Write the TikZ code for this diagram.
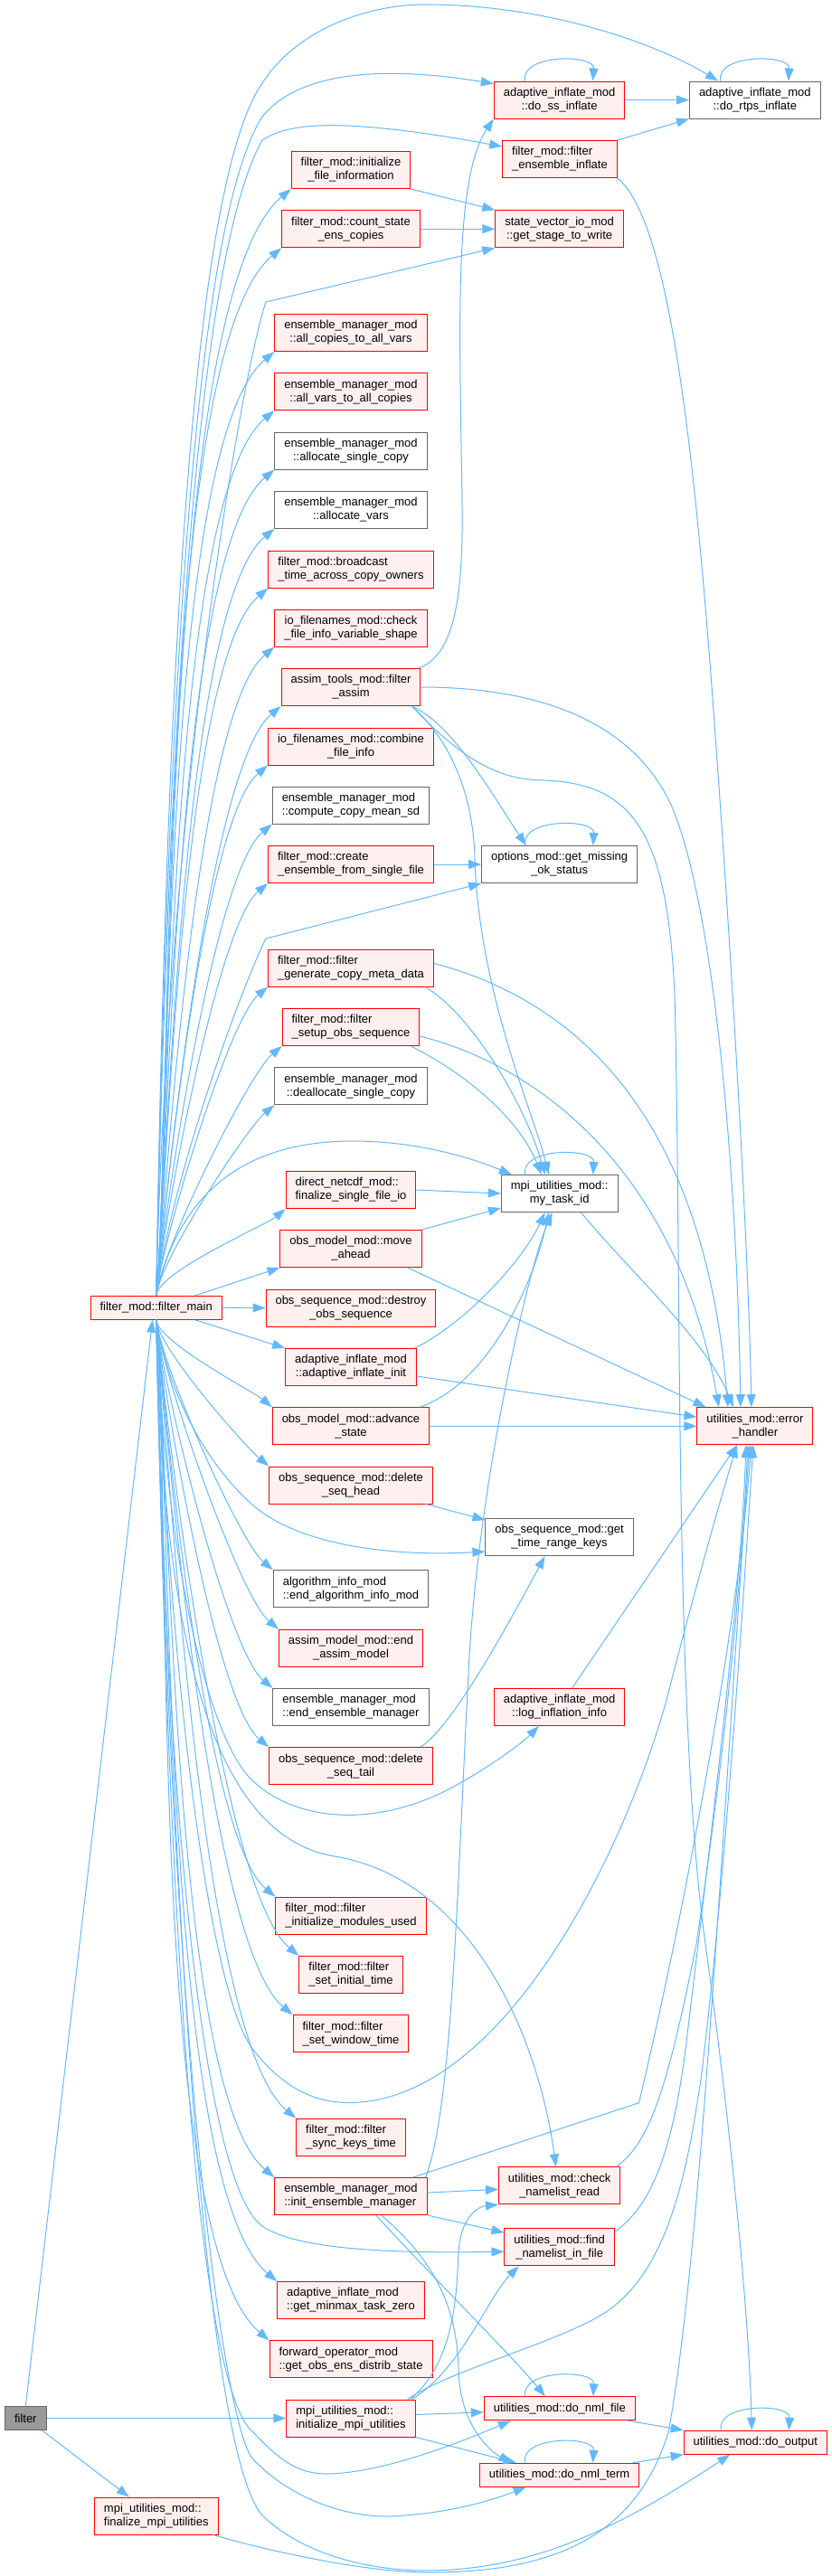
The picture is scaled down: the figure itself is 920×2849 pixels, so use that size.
\documentclass[tikz,border=0pt]{standalone}
\usepackage{fontspec}
\setmainfont{Liberation Sans}
\usetikzlibrary{arrows.meta}
\definecolor{callblue}{HTML}{63B8FF}
\definecolor{redfill}{HTML}{FFF0F0}
\definecolor{greyline}{HTML}{666666}
\definecolor{rootfill}{HTML}{999999}
\tikzset{
    fn/.style={
        draw=red, fill=redfill, line width=1pt,
        inner xsep=10.5pt, inner ysep=0pt,
        minimum height=41pt, align=center,
        font=\fontsize{13}{15}\selectfont
    },
    leaf/.style={fn, draw=greyline, fill=white},
    one/.style={minimum height=26pt},
    lft/.style={align=left},
    root/.style={fn, one, draw=greyline, fill=rootfill},
    call/.style={
        draw=callblue, line width=1pt,
        -{Triangle[length=14pt,width=10pt]}
    }
}
\begin{document}
\begin{tikzpicture}[x=1pt,y=1pt]
\useasboundingbox (0,0) rectangle (920,-2849);

% callers
\node[root] (filter) at (28.3,-2674.5) {filter};
\node[fn,one] (fmain) at (172.7,-1446.3) {filter\_mod::filter\_main};
\node[fn,lft] (finmpi) at (172.8,-2782.5) {mpi\_utilities\_mod::\\finalize\_mpi\_utilities};

% called by filter_main
\node[fn] (initfile) at (388,-188) {filter\_mod::initialize\\\_file\_information};
\node[fn] (countstate) at (388,-253.2) {filter\_mod::count\_state\\\_ens\_copies};
\node[fn] (allcop) at (388,-368) {ensemble\_manager\_mod\\::all\_copies\_to\_all\_vars};
\node[fn] (allvars) at (388,-433.2) {ensemble\_manager\_mod\\::all\_vars\_to\_all\_copies};
\node[leaf] (allocsingle) at (388,-498.5) {ensemble\_manager\_mod\\::allocate\_single\_copy};
\node[leaf] (allocvars) at (388,-563.8) {ensemble\_manager\_mod\\::allocate\_vars};
\node[fn,lft] (broadcast) at (388,-629.5) {filter\_mod::broadcast\\\_time\_across\_copy\_owners};
\node[fn] (checkshape) at (388,-694.5) {io\_filenames\_mod::check\\\_file\_info\_variable\_shape};
\node[fn] (fassim) at (388,-760) {assim\_tools\_mod::filter\\\_assim};
\node[fn] (combine) at (388,-825.5) {io\_filenames\_mod::combine\\\_file\_info};
\node[leaf,lft] (meansd) at (388,-890.5) {ensemble\_manager\_mod\\::compute\_copy\_mean\_sd};
\node[fn,lft] (createens) at (388,-956) {filter\_mod::create\\\_ensemble\_from\_single\_file};
\node[fn,lft] (genmeta) at (388,-1070.5) {filter\_mod::filter\\\_generate\_copy\_meta\_data};
\node[fn,lft] (setupobs) at (388,-1136) {filter\_mod::filter\\\_setup\_obs\_sequence};
\node[leaf] (dealloc) at (388,-1201.2) {ensemble\_manager\_mod\\::deallocate\_single\_copy};
\node[fn,lft] (finsingle) at (388,-1316) {direct\_netcdf\_mod::\\finalize\_single\_file\_io};
\node[fn] (moveahead) at (388,-1381) {obs\_model\_mod::move\\\_ahead};
\node[fn] (destroy) at (388,-1446.5) {obs\_sequence\_mod::destroy\\\_obs\_sequence};
\node[fn] (adinit) at (388,-1512) {adaptive\_inflate\_mod\\::adaptive\_inflate\_init};
\node[fn] (advance) at (388,-1577.2) {obs\_model\_mod::advance\\\_state};
\node[fn] (delhead) at (388,-1642.5) {obs\_sequence\_mod::delete\\\_seq\_head};
\node[leaf,lft] (endalg) at (388,-1757.3) {algorithm\_info\_mod\\::end\_algorithm\_info\_mod};
\node[fn] (endassim) at (388,-1822.8) {assim\_model\_mod::end\\\_assim\_model};
\node[leaf,lft] (endens) at (388,-1888) {ensemble\_manager\_mod\\::end\_ensemble\_manager};
\node[fn] (deltail) at (388,-1953.2) {obs\_sequence\_mod::delete\\\_seq\_tail};
\node[fn,lft] (initmods) at (388,-2118.7) {filter\_mod::filter\\\_initialize\_modules\_used};
\node[fn,lft] (setinit) at (388,-2184) {filter\_mod::filter\\\_set\_initial\_time};
\node[fn,lft] (setwin) at (388,-2249.3) {filter\_mod::filter\\\_set\_window\_time};
\node[fn,lft] (synckeys) at (388,-2363.7) {filter\_mod::filter\\\_sync\_keys\_time};
\node[fn,lft] (initens) at (388,-2429) {ensemble\_manager\_mod\\::init\_ensemble\_manager};
\node[fn,lft] (minmax) at (388,-2544) {adaptive\_inflate\_mod\\::get\_minmax\_task\_zero};
\node[fn,lft] (distrib) at (388,-2609.2) {forward\_operator\_mod\\::get\_obs\_ens\_distrib\_state};
\node[fn,lft] (initmpi) at (388,-2674.5) {mpi\_utilities\_mod::\\initialize\_mpi\_utilities};

% third level
\node[fn] (ssinf) at (618.6,-110.5) {adaptive\_inflate\_mod\\::do\_ss\_inflate};
\node[fn,lft] (ensinf) at (619,-176) {filter\_mod::filter\\\_ensemble\_inflate};
\node[fn] (stage) at (618.6,-253.2) {state\_vector\_io\_mod\\::get\_stage\_to\_write};
\node[leaf] (missing) at (618.7,-956) {options\_mod::get\_missing\\\_ok\_status};
\node[leaf] (taskid) at (618.7,-1320) {mpi\_utilities\_mod::\\my\_task\_id};
\node[leaf] (timekeys) at (618.6,-1700) {obs\_sequence\_mod::get\\\_time\_range\_keys};
\node[fn] (loginf) at (618.6,-1888) {adaptive\_inflate\_mod\\::log\_inflation\_info};
\node[fn] (chkread) at (618.7,-2417.3) {utilities\_mod::check\\\_namelist\_read};
\node[fn] (findnml) at (618.7,-2485.2) {utilities\_mod::find\\\_namelist\_in\_file};
\node[fn,one] (nmlfile) at (618.8,-2663.8) {utilities\_mod::do\_nml\_file};
\node[fn,one] (nmlterm) at (618.6,-2737.2) {utilities\_mod::do\_nml\_term};

\node[leaf] (rtps) at (834.8,-110.5) {adaptive\_inflate\_mod\\::do\_rtps\_inflate};
\node[fn] (errh) at (834.9,-1577.2) {utilities\_mod::error\\\_handler};
\node[fn,one] (doout) at (835.3,-2701.2) {utilities\_mod::do\_output};

% filter
\draw[call] (filter.north) -- ([xshift=-4pt]fmain.south);
\draw[call] (filter.east) -- (initmpi.west);
\draw[call] ([xshift=-5pt]filter.south east) -- ([xshift=-30pt]finmpi.north);

% filter_main fan
\foreach \n/\d in {initfile/193,countstate/183,allcop/165,allvars/155,allocsingle/145,
                   allocvars/135,broadcast/125,checkshape/115,fassim/105,combine/94,
                   meansd/85,createens/74,genmeta/57,setupobs/48,dealloc/39,finsingle/27}
    \draw[call] (fmain.north) .. controls +({0.1*\d},\d) and +({-0.766*\d},{-0.643*\d}) .. (\n.south west);
\foreach \n/\d in {advance/25,delhead/33,endalg/48,endassim/57,endens/67,deltail/77,
                   initmods/103,setinit/113,setwin/123,synckeys/140,initens/150,
                   minmax/168,distrib/179}
    \draw[call] (fmain.south) .. controls +({0.1*\d},-\d) and +({-0.766*\d},{0.643*\d}) .. (\n.north west);
\draw[call] ([xshift=-30pt]fmain.north east) -- (moveahead.south west);
\draw[call] (fmain.east) -- (destroy.west);
\draw[call] ([xshift=-30pt]fmain.south east) -- (adinit.north west);

% filter_main, long calls
\draw[call] (fmain.north) .. controls (185,-700) and (215,-200) .. (290,-92)
    .. controls (330,-30) and (410,-5) .. (470,-5)
    .. controls (600,-5) and (720,-45) .. ([xshift=32pt]rtps.north west);
\draw[call] (fmain.north) .. controls (187,-700) and (220,-240) .. (290,-129)
    .. controls (330,-80) and (420,-72) .. ([yshift=-3pt]ssinf.north west);
\draw[call] (fmain.north) .. controls (189,-700) and (225,-270) .. (290,-155)
    .. controls (320,-135) and (380,-130) .. ([yshift=-7pt]ensinf.north west);
\draw[call] (fmain.north) .. controls (185,-900) and (265,-420) .. (294,-334) -- (stage.south west);
\draw[call] (fmain.north) .. controls (190,-1300) and (270,-1085) .. (294,-1038) -- (missing.south west);
\draw[call] (fmain.north) .. controls (195,-1330) and (260,-1262) .. (390,-1262)
    .. controls (460,-1262) and (520,-1280) .. ([xshift=12pt]taskid.north west);
\draw[call] (fmain.south) .. controls (190,-1560) and (240,-1630) .. (280,-1665)
    .. controls (330,-1708) and (430,-1722) .. ([yshift=5pt]timekeys.south west);
\draw[call] (fmain.south) .. controls (185,-1750) and (235,-1930) .. (280,-1970)
    .. controls (320,-2008) and (400,-2025) .. (490,-1982)
    .. controls (530,-1962) and (575,-1930) .. ([xshift=50pt]loginf.south west);
\draw[call] (fmain.south) .. controls (180,-1800) and (230,-2030) .. (370,-2053)
    .. controls (520,-2078) and (595,-2250) .. ([xshift=-4pt]chkread.north);
\draw[call] (fmain.south) .. controls (185,-2050) and (230,-2420) .. (290,-2462)
    .. controls (330,-2490) and (450,-2492) .. ([yshift=-5pt]findnml.west);
\draw[call] (fmain.south) .. controls (190,-2300) and (230,-2650) .. (280,-2690)
    .. controls (310,-2722) and (330,-2736) .. (362,-2736)
    .. controls (420,-2735) and (500,-2705) .. ([xshift=30pt]nmlfile.south west);
\draw[call] (fmain.south) .. controls (190,-2300) and (250,-2690) .. (280,-2720)
    .. controls (320,-2762) and (380,-2784) .. (431,-2783)
    .. controls (500,-2780) and (550,-2763) .. ([xshift=-37pt]nmlterm.south);
\draw[call] (fmain.south) .. controls (200,-2400) and (245,-2730) .. (290,-2782)
    .. controls (340,-2830) and (420,-2843) .. (470,-2843)
    .. controls (600,-2843) and (700,-2785) .. ([xshift=-28pt]doout.south);
\draw[call] (fmain.south) .. controls (190,-1900) and (235,-2210) .. (280,-2267)
    .. controls (320,-2318) and (360,-2328) .. (398,-2325)
    .. controls (560,-2312) and (690,-2050) .. (737,-1880)
    .. controls (760,-1790) and (790,-1680) .. ([xshift=-20pt]errh.south);
\draw[call] ([xshift=-6pt]finmpi.south east) .. controls (300,-2822) and (400,-2844) .. (470,-2845)
    .. controls (620,-2846) and (705,-2800) .. (739,-2690)
    .. controls (775,-2500) and (800,-2000) .. ([xshift=-6pt]errh.south);

% first level callees
\draw[call] (initfile.south east) -- (stage.north west);
\draw[call] (countstate.east) -- (stage.west);
\draw[call] (ssinf.east) -- (rtps.west);
\draw[call] (ensinf.north east) -- (rtps.south west);
\draw[call] (ensinf.south east) .. controls (735,-240) and (765,-450) .. (790,-800)
    .. controls (812,-1100) and (828,-1400) .. ([xshift=-4pt]errh.north);
\draw[call] ([xshift=-3pt]fassim.north east) .. controls (505,-725) and (512,-650) .. (511,-560)
    .. controls (509,-380) and (500,-200) .. (ssinf.south west);
\draw[call] ([xshift=-10pt]fassim.south east) .. controls (500,-800) and (545,-880) .. ([xshift=-37pt]missing.north);
\draw[call] ([xshift=-10pt]fassim.south east) .. controls (510,-830) and (524,-900) .. (525,-950)
    .. controls (530,-1100) and (590,-1230) .. ([xshift=-12pt]taskid.north);
\draw[call] ([xshift=-10pt]fassim.south east) .. controls (520,-850) and (560,-862) .. (600,-863)
    .. controls (700,-866) and (738,-920) .. (746,-1100)
    .. controls (754,-1400) and (745,-1900) .. (780,-2150)
    .. controls (805,-2330) and (828,-2550) .. ([xshift=-4pt]doout.north);
\draw[call] (fassim.east) .. controls (600,-760) and (700,-800) .. (742,-890)
    .. controls (790,-1000) and (815,-1300) .. ([xshift=-16pt]errh.north);
\draw[call] (createens.east) -- (missing.west);
\draw[call] ([xshift=-10pt]genmeta.south east) .. controls (520,-1120) and (580,-1220) .. ([xshift=-16pt]taskid.north);
\draw[call] ([yshift=5pt]genmeta.east) .. controls (650,-1110) and (780,-1250) .. ([xshift=-30pt]errh.north);
\draw[call] ([xshift=-10pt]setupobs.south east) .. controls (520,-1190) and (575,-1240) .. ([xshift=-20pt]taskid.north);
\draw[call] ([yshift=-10pt]setupobs.east) .. controls (600,-1180) and (750,-1300) .. ([xshift=-40pt]errh.north);
\draw[call] (finsingle.east) -- (taskid.west);
\draw[call] (moveahead.north east) -- ([yshift=5pt]taskid.south west);
\draw[call] ([xshift=-16pt]moveahead.south east) -- ([xshift=10pt]errh.north west);
\draw[call] ([xshift=-2pt]adinit.north east) .. controls (520,-1460) and (580,-1390) .. ([xshift=-16pt]taskid.south);
\draw[call] ([yshift=-10pt]adinit.east) -- ([yshift=10pt]errh.west);
\draw[call] ([xshift=-11pt]advance.north east) .. controls (540,-1530) and (590,-1420) .. ([xshift=-12pt]taskid.south);
\draw[call] (advance.east) -- (errh.west);
\draw[call] ([xshift=-8pt]delhead.south east) -- ([yshift=-2pt]timekeys.north west);
\draw[call] ([xshift=-14pt]deltail.north east) .. controls (500,-1910) and (560,-1800) .. ([xshift=-16pt]timekeys.south);
\draw[call] ([xshift=24pt]taskid.south) .. controls (690,-1400) and (780,-1480) .. ([xshift=-24pt]errh.north);
\draw[call] ([xshift=14pt]loginf.north) -- ([xshift=-20pt]errh.south);

% init_ensemble_manager and initialize_mpi_utilities
\draw[call] ([yshift=4pt]initens.east) -- ([yshift=-4pt]chkread.west);
\draw[call] (initens.south east) -- ([yshift=-5pt]findnml.north west);
\draw[call] ([xshift=-57pt]initens.south east) .. controls (480,-2520) and (570,-2610) .. ([xshift=-16pt]nmlfile.north);
\draw[call] ([xshift=-51pt]initens.south east) .. controls (480,-2500) and (505,-2550) .. (507,-2620)
    .. controls (508,-2680) and (540,-2710) .. ([xshift=-53pt]nmlterm.north);
\draw[call] ([xshift=-16pt]initens.north east) -- (706.5,-2325.7)
    .. controls (760,-2100) and (815,-1800) .. ([xshift=-4pt]errh.south);
\draw[call] ([xshift=-2pt]initens.north east) .. controls (500,-2330) and (505,-2100) .. (518,-1850)
    .. controls (528,-1640) and (585,-1400) .. ([xshift=-8pt]taskid.south);
\draw[call] ([xshift=-5pt]chkread.north east) .. controls (720,-2370) and (740,-2300) .. (770,-2150)
    .. controls (800,-1950) and (820,-1750) .. ([xshift=-8pt]errh.south);
\draw[call] ([yshift=-4pt]findnml.north east) .. controls (720,-2440) and (745,-2380) .. (760,-2250)
    .. controls (790,-2000) and (820,-1750) .. ([xshift=-10pt]errh.south);
\draw[call] ([xshift=-6pt]initmpi.north east) .. controls (505,-2610) and (505,-2530) .. (507,-2490)
    .. controls (510,-2450) and (530,-2440) .. (chkread.south west);
\draw[call] ([xshift=-4pt]initmpi.north east) .. controls (510,-2620) and (540,-2540) .. ([xshift=-45pt]findnml.south);
\draw[call] ([xshift=-9pt]initmpi.north east) .. controls (500,-2620) and (620,-2590) .. (670,-2557)
    .. controls (740,-2510) and (760,-2400) .. (775,-2300)
    .. controls (800,-2100) and (820,-1800) .. ([xshift=-2pt]errh.south);
\draw[call] ([yshift=4pt]initmpi.east) -- ([yshift=-4pt]nmlfile.west);
\draw[call] (initmpi.south east) -- ([xshift=-48pt]nmlterm.north);
\draw[call] ([xshift=-8pt]nmlfile.south east) -- (doout.north west);
\draw[call] ([xshift=-7pt]nmlterm.north east) -- (doout.south west);

% recursive calls
\foreach \n in {ssinf,rtps,missing,taskid,nmlfile,nmlterm,doout}
    \draw[call] ([xshift=-38pt]\n.north) .. controls +(-6,30) and +(2,30) .. ([xshift=37pt]\n.north);
\end{tikzpicture}
\end{document}
